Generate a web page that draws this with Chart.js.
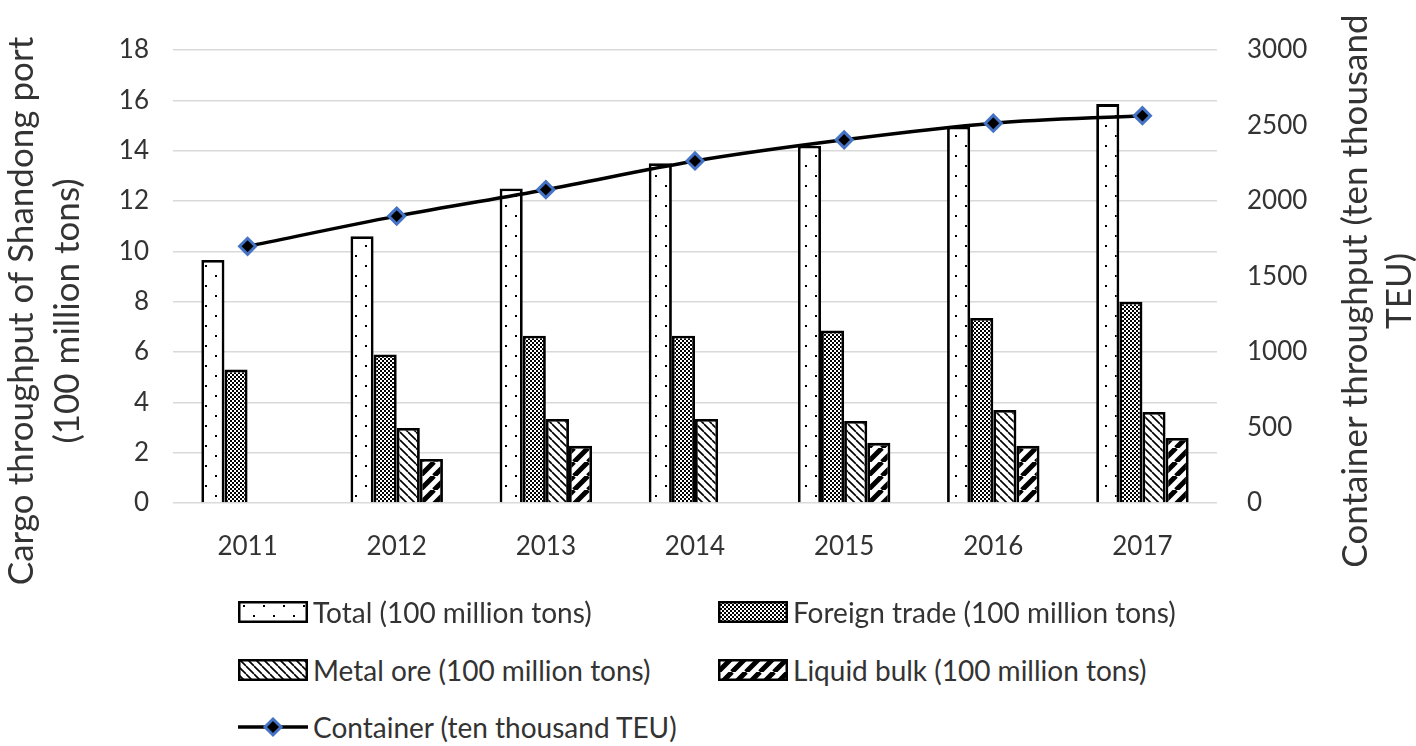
<!DOCTYPE html>
<html>
<head>
<meta charset="utf-8">
<script src="https://cdn.jsdelivr.net/npm/chart.js@4.4.0/dist/chart.umd.min.js"></script>
<style>
  body { margin: 0; background: #fff; }
  #wrap { position: relative; width: 1416px; height: 746px; font-family: Lato, sans-serif; color: #333; }
  #chart { position: absolute; left: 0; top: 0; }
  .item { position: absolute; height: 30px; display: flex; align-items: center; font-size: 28px; white-space: nowrap; }
  .item canvas { margin-right: 5px; }
</style>
</head>
<body>
<div id="wrap">
  <canvas id="chart" width="1416" height="600"></canvas>
</div>
<script>
/*
    Shandong port throughput, bars + container line
*/
var years = ['2011', '2012', '2013', '2014', '2015', '2016', '2017'];
var total = [9.66, 10.6, 12.5, 13.5, 14.2, 14.95, 15.85];
var foreignTrade = [5.3, 5.9, 6.65, 6.65, 6.85, 7.35, 8.0];
var metalOre = [null, 2.98, 3.34, 3.34, 3.26, 3.7, 3.62];
var liquidBulk = [null, 1.75, 2.27, null, 2.39, 2.27, 2.58];
var container = [1700, 1900, 2075, 2265, 2405, 2515, 2565];

var labelTotal = 'Total (100 million tons)';
var labelForeign = 'Foreign trade (100 million tons)';
var labelMetal = 'Metal ore (100 million tons)';
var labelLiquid = 'Liquid bulk (100 million tons)';
var labelContainer = 'Container (ten thousand TEU)';

/* pattern tiles */
function tile(w, h, draw) {
    var c = document.createElement('canvas');
    c.width = w; c.height = h;
    var g = c.getContext('2d');
    g.fillStyle = '#fff';
    g.fillRect(0, 0, w, h);
    draw(g, w, h);
    return c;
}
var dotsTile = tile(20, 20, function (g) {
    g.fillStyle = '#000';
    g.fillRect(5, 5, 2, 2);
    g.fillRect(15, 15, 2, 2);
});
var checkTile = tile(4, 4, function (g) {
    g.fillStyle = '#000';
    g.fillRect(0, 0, 4, 4);
    g.fillStyle = '#fff';
    g.fillRect(0, 0, 2, 2);
    g.fillRect(2, 2, 2, 2);
});
var backTile = tile(8, 8, function (g) {
    g.strokeStyle = '#000';
    g.lineWidth = 1.6;
    g.beginPath();
    for (var k = -1; k <= 1; k++) { g.moveTo(k * 8, 0); g.lineTo(k * 8 + 8, 8); }
    g.stroke();
});
var fwdTile = tile(14, 14, function (g) {
    g.strokeStyle = '#000';
    g.lineWidth = 5;
    g.beginPath();
    for (var k = -1; k <= 1; k++) { g.moveTo(k * 14, 14); g.lineTo(k * 14 + 14, 0); }
    g.stroke();
});

var ctx = document.getElementById('chart').getContext('2d');
function pat(t) { return ctx.createPattern(t, 'repeat'); }

/* both axis titles read bottom-to-top and sit a bit below the plot centre */
var axisTitles = {
    id: 'axisTitles',
    afterDraw: function (chart) {
        var c = chart.ctx;
        c.save();
        c.fillStyle = '#333';
        c.font = '35px Lato';
        c.textAlign = 'center';
        c.textBaseline = 'middle';
        [
            ['Cargo throughput of Shandong port', 22, 311],
            ['(100 million tons)', 68, 311],
            ['Container throughput (ten thousand', 1356, 291],
            ['TEU)', 1400, 291]
        ].forEach(function (l) {
            c.save();
            c.translate(l[1], l[2]);
            c.rotate(-Math.PI / 2);
            c.fillText(l[0], 0, 0);
            c.restore();
        });
        c.restore();
    }
};

var barCommon = { borderColor: '#000', borderWidth: 2.8, categoryPercentage: 0.62, barPercentage: 1.0, yAxisID: 'y', order: 1 };
var tickFont = { family: 'Lato', size: 26 };

new Chart(ctx, {
    type: 'bar',
    data: {
        labels: years,
        datasets: [
            Object.assign({ label: labelTotal, data: total, backgroundColor: pat(dotsTile) }, barCommon),
            Object.assign({ label: labelForeign, data: foreignTrade, backgroundColor: pat(checkTile) }, barCommon),
            Object.assign({ label: labelMetal, data: metalOre, backgroundColor: pat(backTile) }, barCommon),
            Object.assign({ label: labelLiquid, data: liquidBulk, backgroundColor: pat(fwdTile) }, barCommon),
            {
                type: 'line', label: labelContainer, data: container, yAxisID: 'y1', order: 0,
                borderColor: '#000', borderWidth: 3.5, tension: 0.4, cubicInterpolationMode: 'monotone',
                pointStyle: 'rectRot', pointRadius: 8, pointBackgroundColor: '#000',
                pointBorderColor: '#4472C4', pointBorderWidth: 3
            }
        ]
    },
    options: {
        responsive: false,
        animation: false,
        layout: { padding: { top: 50, left: 0, right: 0, bottom: 0 } },
        plugins: { legend: { display: false }, tooltip: { enabled: false } },
        scales: {
            x: {
                offset: true,
                grid: { display: false },
                border: { display: false },
                ticks: { font: tickFont, color: '#333', padding: 20 },
                afterFit: function (s) { s.height = 97; }
            },
            y: {
                position: 'left', min: 0, max: 18,
                ticks: { stepSize: 2, font: tickFont, color: '#333', padding: 24 },
                grid: { color: '#d9d9d9', lineWidth: 1.5, drawTicks: false },
                border: { display: false },
                afterFit: function (s) { s.width = 173; }
            },
            y1: {
                position: 'right', min: 0, max: 3000,
                ticks: {
                    stepSize: 500, font: tickFont, color: '#333', padding: 30,
                    callback: function (v) { return String(v); }
                },
                grid: { display: false, drawTicks: false },
                border: { display: false },
                afterFit: function (s) { s.width = 199; }
            }
        }
    },
    plugins: [axisTitles]
});

/* legend, two columns like the original */
var legendItems = [
    { text: labelTotal, t: dotsTile, x: 238, y: 612 },
    { text: labelForeign, t: checkTile, x: 718, y: 612 },
    { text: labelMetal, t: backTile, x: 238, y: 670 },
    { text: labelLiquid, t: fwdTile, x: 718, y: 670 },
    { text: labelContainer, line: true, x: 238, y: 727 }
];
var wrap = document.getElementById('wrap');
legendItems.forEach(function (it) {
    var d = document.createElement('div');
    d.className = 'item';
    d.style.left = it.x + 'px';
    d.style.top = (it.y - 15) + 'px';
    var sw = document.createElement('canvas');
    sw.width = 70; sw.height = 24;
    var g = sw.getContext('2d');
    if (it.line) {
        g.strokeStyle = '#000'; g.lineWidth = 3.5;
        g.beginPath(); g.moveTo(0, 12); g.lineTo(70, 12); g.stroke();
        g.beginPath(); g.moveTo(35, 4); g.lineTo(43, 12); g.lineTo(35, 20); g.lineTo(27, 12); g.closePath();
        g.fillStyle = '#000'; g.fill();
        g.strokeStyle = '#4472C4'; g.lineWidth = 3; g.stroke();
    } else {
        g.fillStyle = g.createPattern(it.t, 'repeat');
        g.fillRect(1, 2, 68, 20);
        g.strokeStyle = '#000'; g.lineWidth = 2.5;
        g.strokeRect(1.25, 2.25, 67.5, 19.5);
    }
    d.appendChild(sw);
    var s = document.createElement('span');
    s.textContent = it.text;
    d.appendChild(s);
    wrap.appendChild(d);
});
</script>
</body>
</html>
